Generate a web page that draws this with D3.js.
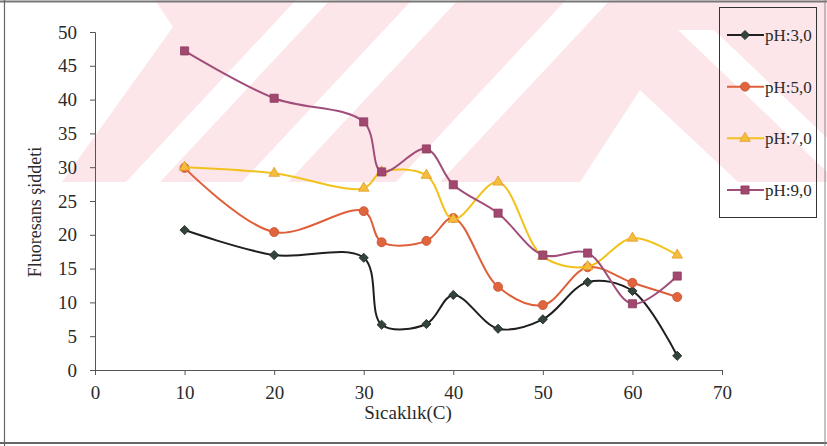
<!DOCTYPE html>
<html>
<head>
<meta charset="utf-8">
<script src="https://cdnjs.cloudflare.com/ajax/libs/d3/7.8.5/d3.min.js"></script>
<style>
  html, body { margin: 0; padding: 0; background: #fff; }
  svg { display: block; }
  text { font-family: "Liberation Serif", "Times New Roman", serif; fill: #2a2a2a; }
</style>
</head>
<body>
<svg id="chart" width="827" height="446"></svg>
<script>
// ---- data ----
const temps = [10, 20, 30, 32, 37, 40, 45, 50, 55, 60, 65];
const pH3 = [20.7, 17.0, 16.6, 6.7, 6.8, 11.1, 6.1, 7.5, 13.0, 11.7, 2.1];
const pH5 = [29.9, 20.4, 23.5, 18.9, 19.1, 22.5, 12.3, 9.6, 15.2, 12.9, 10.8];
const pH7 = [30.0, 29.1, 26.9, 29.3, 28.8, 22.3, 27.8, 16.8, 15.3, 19.5, 17.0];
const pH9 = [47.2, 40.2, 36.7, 29.3, 32.7, 27.4, 23.2, 17.0, 17.3, 9.8, 13.9];
const seriesNames = ["pH:3,0", "pH:5,0", "pH:7,0", "pH:9,0"];
const xTicks = [0, 10, 20, 30, 40, 50, 60, 70];
const yTicks = [0, 5, 10, 15, 20, 25, 30, 35, 40, 45, 50];
const xTitle = "Sıcaklık(C)";
const yTitle = "Fluoresans şiddeti";

const styles = [
  { line: "#1f1f1f", fill: "#33453b", stroke: "#1f2a24", shape: d3.symbolSquare, size: 42, rot: 45 },
  { line: "#df5f3a", fill: "#e0643e", stroke: "#c9502e", shape: d3.symbolCircle, size: 64, rot: 0 },
  { line: "#f2c21c", fill: "#f4bd3c", stroke: "#e39a2c", shape: d3.symbolTriangle, size: 48, rot: 0 },
  { line: "#a14d7a", fill: "#a2476f", stroke: "#8c3d60", shape: d3.symbolSquare, size: 66, rot: 0 }
];
const values = [pH3, pH5, pH7, pH9];

const svg = d3.select("#chart");
const W = 827, H = 446;

// ---- background watermark (decorative, scanned page) ----
const wm = svg.append("g");
wm.append("rect").attr("x", 0).attr("y", 0).attr("width", W).attr("height", 182).attr("fill", "#fce6ea");
const gaps = [
  [[0,0],[155,0],[173,27],[62,182],[0,182]],
  [[296,0],[330,0],[160,182],[126,182]],
  [[412,0],[458,0],[288,182],[242,182]],
  [[566,0],[610,0],[440,182],[396,182]],
  [[580,182],[640,90],[738,182]],
  [[678,30],[714,30],[827,138],[827,172]]
];
wm.selectAll("polygon").data(gaps).join("polygon")
  .attr("points", d => d.map(p => p.join(",")).join(" "))
  .attr("fill", "#ffffff");

// ---- page frame (scan border) ----
svg.append("line").attr("x1", 0).attr("x2", W).attr("y1", 1.5).attr("y2", 1.5).attr("stroke", "#777").attr("stroke-width", 2);
svg.append("line").attr("x1", 0).attr("x2", W).attr("y1", 443).attr("y2", 443).attr("stroke", "#666").attr("stroke-width", 2);
svg.append("line").attr("x1", 4.5).attr("x2", 4.5).attr("y1", 0).attr("y2", H).attr("stroke", "#666").attr("stroke-width", 1.2);
svg.append("line").attr("x1", 825).attr("x2", 825).attr("y1", 0).attr("y2", H).attr("stroke", "#888").attr("stroke-width", 1);

// ---- scales ----
const x = d3.scaleLinear().domain([0, 70]).range([95, 722]);
const y = d3.scaleLinear().domain([0, 50]).range([370, 32]);

// ---- axes ----
const xAxis = svg.append("g").attr("transform", `translate(0,${y(0)})`)
  .call(d3.axisBottom(x).tickValues(xTicks).tickSize(5).tickPadding(11).tickFormat(d3.format("d")));
const yAxis = svg.append("g").attr("transform", `translate(${x(0)},0)`)
  .call(d3.axisLeft(y).tickValues(yTicks).tickSize(5).tickPadding(13).tickFormat(d3.format("d")));
[xAxis, yAxis].forEach(a => {
  a.select(".domain").attr("stroke", "#555").attr("stroke-width", 1);
  a.selectAll(".tick line").attr("stroke", "#555");
  a.selectAll(".tick text").style("font-family", "Liberation Serif, serif").style("font-size", "19px").attr("fill", "#2a2a2a");
});

svg.append("text").attr("x", 408).attr("y", 419).attr("text-anchor", "middle")
  .style("font-size", "19px").text(xTitle);
svg.append("text").attr("transform", "translate(41,212) rotate(-90)").attr("text-anchor", "middle")
  .style("font-size", "18px").text(yTitle);

// ---- series ----
const line = d3.line().x(d => x(d[0])).y(d => y(d[1])).curve(d3.curveCatmullRom.alpha(0.5));
values.forEach((vals, i) => {
  const pts = temps.map((t, j) => [t, vals[j]]);
  const g = svg.append("g");
  g.append("path").attr("d", line(pts)).attr("fill", "none")
    .attr("stroke", styles[i].line).attr("stroke-width", 2);
  g.selectAll("path.m").data(pts).join("path").attr("class", "m")
    .attr("d", d3.symbol().type(styles[i].shape).size(styles[i].size))
    .attr("transform", d => `translate(${x(d[0])},${y(d[1])}) rotate(${styles[i].rot})`)
    .attr("fill", styles[i].fill).attr("stroke", styles[i].stroke).attr("stroke-width", 0.8);
});

// ---- legend ----
const lg = svg.append("g");
lg.append("rect").attr("x", 719.5).attr("y", 7.5).attr("width", 97).attr("height", 210)
  .attr("fill", "none").attr("stroke", "#333").attr("stroke-width", 1);
const legY = d3.scalePoint().domain(seriesNames).range([35, 190]);
seriesNames.forEach((name, i) => {
  const cy = legY(name);
  lg.append("line").attr("x1", 727).attr("x2", 764).attr("y1", cy).attr("y2", cy)
    .attr("stroke", styles[i].line).attr("stroke-width", 2);
  lg.append("path").attr("d", d3.symbol().type(styles[i].shape).size(styles[i].size)())
    .attr("transform", `translate(745,${cy}) rotate(${styles[i].rot})`)
    .attr("fill", styles[i].fill).attr("stroke", styles[i].stroke).attr("stroke-width", 0.8);
  lg.append("text").attr("x", 765).attr("y", cy + 6).style("font-size", "17px").text(name);
});
</script>
</body>
</html>
